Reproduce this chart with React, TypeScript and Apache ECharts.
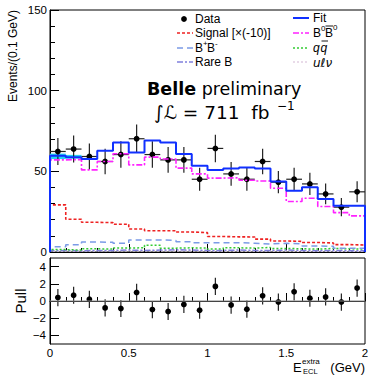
import React, { useEffect, useRef } from "react";
import * as echarts from "echarts";

const binLow = [0.0, 0.1, 0.2, 0.3, 0.4, 0.5, 0.6, 0.7, 0.8, 0.9, 1.0, 1.1, 1.2, 1.3, 1.4, 1.5, 1.6, 1.7, 1.8, 1.9];
const binWidth = 0.1;
const xMax = 2.0;

const dataValues = [62.3, 63.8, 59.2, 56.1, 60.4, 70.2, 60.4, 57.1, 57.1, 45.1, 64.2, 48.4, 45.1, 56.1, 43.3, 45.1, 42.2, 36.0, 27.8, 37.3];
const dataErrors = [8.3, 8.4, 8.1, 7.9, 8.2, 8.9, 8.2, 8.0, 8.0, 7.1, 8.5, 7.4, 7.1, 7.9, 6.9, 7.1, 6.9, 6.4, 5.6, 6.5];
const fitValues = [59.6, 58.8, 57.6, 62.7, 67.9, 61.7, 69.1, 67.9, 60.7, 53.4, 50.9, 51.7, 52.4, 51.7, 43.7, 37.9, 40.1, 32.9, 28.7, 28.7];
const fitBandLo = [57.6, 57.9];
const fitBandHi = [61.0, 60.2];
const b0b0Values = [57.1, 57.3, 50.9, 56.1, 60.9, 54.0, 58.8, 57.6, 52.0, 48.4, 45.8, 46.0, 44.5, 44.0, 39.5, 31.3, 33.3, 28.2, 24.4, 22.4];
const signalValues = [29.2, 20.3, 18.4, 18.2, 17.2, 14.3, 13.2, 13.2, 12.4, 12.0, 9.6, 9.4, 9.3, 8.0, 6.8, 6.6, 5.9, 5.6, 4.6, 4.3];
const bpbmValues = [3.3, 4.5, 6.2, 6.0, 5.4, 7.5, 7.5, 7.1, 6.4, 5.8, 5.8, 5.8, 5.4, 5.0, 5.4, 5.0, 3.7, 3.5, 2.4, 2.3];
const qqValues = [1.5, 1.2, 2.0, 1.8, 2.5, 2.6, 4.2, 2.4, 2.6, 2.4, 1.8, 2.6, 2.4, 2.8, 2.2, 2.0, 1.8, 2.2, 2.0, 1.8];
const rareValues = [1.0, 0.8, 1.0, 1.0, 1.2, 1.0, 1.2, 1.4, 1.2, 1.0, 1.0, 1.2, 1.0, 1.0, 1.2, 1.0, 0.8, 1.0, 0.8, 0.8];
const ulnuValues = [0.6, 0.6, 0.7, 0.7, 0.8, 0.7, 0.8, 0.8, 0.7, 0.7, 0.6, 0.7, 0.6, 0.6, 0.6, 0.5, 0.5, 0.5, 0.4, 0.4];
const pullValues = [0.4, 0.67, 0.2, -0.8, -0.87, 1.0, -1.0, -1.22, -0.4, -1.07, 1.7, -0.47, -0.95, 0.6, -0.12, 1.07, 0.32, 0.47, -0.12, 1.5];
const pullErrors = [1, 1, 1, 1, 1, 1, 1, 1, 1, 1, 1, 1, 1, 1, 1, 1, 1, 1, 1, 1];

const topYTicks = [0, 50, 100, 150];
const pullYTicks = [-4, -2, 0, 2, 4];

const FONT = "Liberation Sans, Arial, sans-serif";

function stepData(vals: number[]) {
  const pts: number[][] = [[binLow[0], 0]];
  vals.forEach((v, i) => pts.push([binLow[i], v]));
  pts.push([xMax, vals[vals.length - 1]]);
  pts.push([xMax, 0]);
  return pts;
}

function histSeries(name: string, vals: number[], color: string, width: number, dash: any) {
  return {
    name,
    type: "line",
    step: "end",
    symbol: "none",
    xAxisIndex: 0,
    yAxisIndex: 0,
    data: stepData(vals),
    lineStyle: { color, width, type: dash },
    silent: true,
  };
}

function legendLine(x1: number, x2: number, y: number, color: string, width: number, dash?: number[]) {
  return {
    type: "line",
    shape: { x1, y1: y, x2, y2: y },
    style: { stroke: color, lineWidth: width, lineDash: dash },
  };
}

function txt(x: number, y: number, text: string, size: number, extra: any = {}) {
  return {
    type: "text",
    x,
    y,
    style: {
      text,
      fontSize: size,
      fontFamily: FONT,
      fill: "#000",
      verticalAlign: "middle",
      align: "left",
      ...extra,
    },
  };
}

export default function App() {
  const ref = useRef<HTMLDivElement>(null);
  useEffect(() => {
    if (!ref.current) return;
    const chart = echarts.init(ref.current, undefined, { renderer: "svg" });

    const xAxisCommon = {
      type: "value",
      min: 0,
      max: xMax,
      interval: 0.5,
      axisLine: { show: true, lineStyle: { color: "#000", width: 1 } },
      axisTick: { show: true, inside: true, length: 8, lineStyle: { color: "#000" } },
      minorTick: { show: true, splitNumber: 5, length: 4, lineStyle: { color: "#000" } },
      splitLine: { show: false },
      minorSplitLine: { show: false },
    };

    const option: any = {
      animation: false,
      backgroundColor: "#fff",
      grid: [
        { left: 50, top: 10, width: 315, height: 242, show: true, borderColor: "#000", borderWidth: 1, backgroundColor: "transparent", outerBoundsMode: "none" },
        { left: 50, top: 258, width: 315, height: 86, show: true, borderColor: "#000", borderWidth: 1, backgroundColor: "transparent", outerBoundsMode: "none" },
      ],
      xAxis: [
        { ...xAxisCommon, gridIndex: 0, axisLabel: { show: false } },
        {
          ...xAxisCommon,
          gridIndex: 1,
          axisLabel: {
            show: true,
            margin: 3,
            fontSize: 11.5,
            fontFamily: FONT,
            color: "#000",
            formatter: (v: number) => String(v),
          },
        },
      ],
      yAxis: [
        {
          type: "value",
          gridIndex: 0,
          min: 0,
          max: 150,
          interval: 50,
          axisLine: { show: true, lineStyle: { color: "#000" } },
          axisTick: { show: true, inside: true, length: 9, lineStyle: { color: "#000" }, customValues: topYTicks },
          minorTick: { show: true, splitNumber: 5, length: 5, lineStyle: { color: "#000" } },
          axisLabel: { show: true, margin: 3, fontSize: 11.5, fontFamily: FONT, color: "#000", customValues: topYTicks },
          splitLine: { show: false },
          minorSplitLine: { show: false },
        },
        {
          type: "value",
          gridIndex: 1,
          min: -5,
          max: 5,
          axisLine: { show: true, lineStyle: { color: "#000" } },
          axisTick: { show: true, inside: true, length: 9, lineStyle: { color: "#000" }, customValues: pullYTicks },
          axisLabel: {
            show: true,
            margin: 4,
            fontSize: 11.5,
            fontFamily: FONT,
            color: "#000",
            customValues: pullYTicks,
            formatter: (v: number) => (v < 0 ? "\u2212" + Math.abs(v) : String(v)),
          },
          splitLine: { show: false },
        },
      ],
      series: [
        histSeries("uℓν", ulnuValues, "#e2cfe2", 1.5, [2, 2]),
        histSeries("Rare B", rareValues, "#8080dd", 1.5, [6, 2, 2, 2]),
        histSeries("qq", qqValues, "#33cc33", 1.5, [2, 2]),
        histSeries("B+B-", bpbmValues, "#7b9be6", 1.5, [6, 4]),
        histSeries("Signal", signalValues, "#ee2222", 1.6, [3, 2]),
        histSeries("B0B0", b0b0Values, "#ff22ff", 1.6, [6, 2, 2, 2]),
        {
          name: "band",
          type: "custom",
          xAxisIndex: 0,
          yAxisIndex: 0,
          silent: true,
          data: fitBandLo.map((lo, i) => [binLow[i], lo, fitBandHi[i]]),
          renderItem: (_p: any, api: any) => {
            const x0 = api.value(0);
            const a = api.coord([x0, api.value(2)]);
            const b = api.coord([x0 + binWidth, api.value(1)]);
            return {
              type: "rect",
              shape: { x: a[0], y: a[1], width: b[0] - a[0], height: b[1] - a[1] },
              style: { fill: "#22d4f0" },
            };
          },
        },
        histSeries("Fit", fitValues, "#1030ff", 2, "solid"),
        {
          name: "Data",
          type: "custom",
          xAxisIndex: 0,
          yAxisIndex: 0,
          silent: true,
          data: dataValues.map((v, i) => [binLow[i] + binWidth / 2, v, dataErrors[i]]),
          renderItem: (_p: any, api: any) => {
            const x = api.value(0);
            const y = api.value(1);
            const e = api.value(2);
            const c = api.coord([x, y]);
            const l = api.coord([x - binWidth / 2, y]);
            const r = api.coord([x + binWidth / 2, y]);
            const t = api.coord([x, y + e]);
            const b = api.coord([x, y - e]);
            return {
              type: "group",
              children: [
                { type: "line", shape: { x1: l[0], y1: l[1], x2: r[0], y2: r[1] }, style: { stroke: "#222", lineWidth: 1.2 } },
                { type: "line", shape: { x1: t[0], y1: t[1], x2: b[0], y2: b[1] }, style: { stroke: "#222", lineWidth: 1.2 } },
                { type: "circle", shape: { cx: c[0], cy: c[1], r: 2.9 }, style: { fill: "#000" } },
              ],
            };
          },
        },
        {
          name: "zero",
          type: "line",
          xAxisIndex: 1,
          yAxisIndex: 1,
          symbol: "none",
          silent: true,
          data: [[0, 0], [xMax, 0]],
          lineStyle: { color: "#888", width: 1 },
        },
        {
          name: "Pull",
          type: "custom",
          xAxisIndex: 1,
          yAxisIndex: 1,
          silent: true,
          data: pullValues.map((v, i) => [binLow[i] + binWidth / 2, v, pullErrors[i]]),
          renderItem: (_p: any, api: any) => {
            const x = api.value(0);
            const y = api.value(1);
            const e = api.value(2);
            const c = api.coord([x, y]);
            const t = api.coord([x, y + e]);
            const b = api.coord([x, y - e]);
            return {
              type: "group",
              children: [
                { type: "line", shape: { x1: t[0], y1: t[1], x2: b[0], y2: b[1] }, style: { stroke: "#222", lineWidth: 1.2 } },
                { type: "circle", shape: { cx: c[0], cy: c[1], r: 2.9 }, style: { fill: "#000" } },
              ],
            };
          },
        },
      ],
      graphic: [
        // legend column 1
        { type: "circle", shape: { cx: 184, cy: 19, r: 2.9 }, style: { fill: "#000" } },
        txt(195, 19, "Data", 12),
        legendLine(177, 193, 33, "#ee2222", 1.6, [3, 2]),
        txt(195, 33, "Signal [×(-10)]", 12),
        legendLine(177, 193, 48, "#7b9be6", 1.5, [6, 4]),
        txt(195, 48, "B", 12),
        txt(203, 43, "+", 8),
        txt(207, 48, "B", 12),
        txt(215, 43, "-", 8),
        legendLine(177, 193, 62, "#8080dd", 1.5, [6, 2, 2, 2]),
        txt(195, 62, "Rare B", 12),
        // legend column 2
        legendLine(293, 309, 18, "#1030ff", 2),
        txt(313, 18, "Fit", 12),
        legendLine(293, 309, 33, "#ff22ff", 1.6, [6, 2, 2, 2]),
        txt(313, 33, "B", 12),
        txt(321, 28, "0", 8),
        txt(325, 33, "B", 12),
        { type: "line", shape: { x1: 325.5, y1: 26, x2: 333, y2: 26 }, style: { stroke: "#000", lineWidth: 0.9 } },
        txt(333, 27, "0", 8),
        legendLine(293, 309, 48, "#33cc33", 1.5, [2, 2]),
        txt(313, 48, "q", 12, { fontStyle: "italic" }),
        txt(320.5, 48, "q", 12, { fontStyle: "italic" }),
        { type: "line", shape: { x1: 321.5, y1: 41, x2: 328, y2: 41 }, style: { stroke: "#000", lineWidth: 0.9 } },
        legendLine(293, 309, 62, "#e2cfe2", 1.5, [2, 2]),
        txt(313, 63, "uℓν", 12, { fontStyle: "italic", fontFamily: "DejaVu Sans" }),
        // Belle label
        {
          type: "text",
          x: 147,
          y: 89,
          style: {
            text: "{b|Belle} preliminary",
            fontSize: 17.5,
            lineHeight: 18,
            fontFamily: "DejaVu Sans",
            fill: "#000",
            verticalAlign: "middle",
            rich: { b: { fontSize: 17.5, lineHeight: 18, fontFamily: "DejaVu Sans", fontWeight: "bold", fill: "#000" } },
          },
        },
        {
          type: "text",
          x: 154,
          y: 112,
          style: { text: "∫ℒ = 711  fb", fontSize: 18.5, lineHeight: 19, fontFamily: "DejaVu Sans", fill: "#000", verticalAlign: "middle" },
        },
        {
          type: "text",
          x: 277,
          y: 106,
          style: { text: "\u22121", fontSize: 12, lineHeight: 11, fontFamily: "DejaVu Sans", fill: "#000", verticalAlign: "middle" },
        },
        // axis titles
        {
          type: "text",
          x: 13,
          y: 10,
          rotation: Math.PI / 2,
          style: { text: "Events/(0.1 GeV)", fontSize: 12, fontFamily: FONT, fill: "#000", align: "right", verticalAlign: "middle" },
        },
        {
          type: "text",
          x: 20,
          y: 301,
          rotation: Math.PI / 2,
          style: { text: "Pull", fontSize: 15, fontFamily: FONT, fill: "#000", align: "center", verticalAlign: "middle" },
        },
        txt(293, 367, "E", 13),
        txt(302, 361, "extra", 8),
        txt(303, 371, "ECL", 7.5),
        { type: "text", x: 365, y: 367, style: { text: "(GeV)", fontSize: 13, fontFamily: FONT, fill: "#000", align: "right", verticalAlign: "middle" } },
      ],
    };

    chart.setOption(option);
    return () => chart.dispose();
  }, []);

  return (
    <div
      ref={ref}
      style={{ position: "absolute", left: 0, top: 0, width: 368, height: 376, background: "#fff" }}
    />
  );
}
